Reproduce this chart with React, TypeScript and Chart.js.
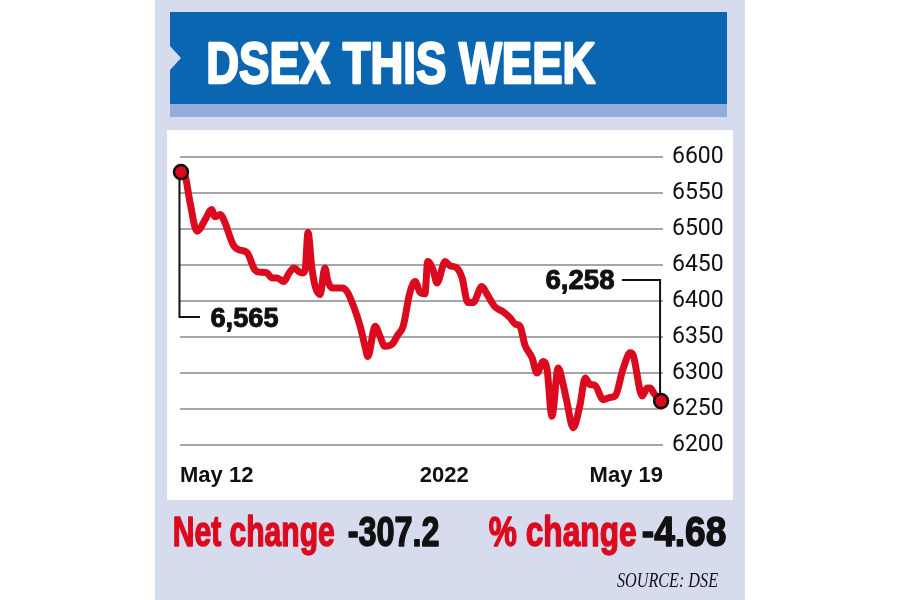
import React, { useEffect, useRef } from "react";
import { Chart, registerables } from "chart.js";

Chart.register(...registerables);

// ---- DATA ----
// position within the week (0 = May 12 open, 100 = May 19 close)
const timePos = [
  0.2, 1.0, 2.1, 3.5, 4.1, 5.2, 6.6, 7.2, 8.3, 9.3, 10.4, 11.2, 12.2, 13.9, 15.5, 16.6,
  18.0, 19.0, 20.1, 21.5, 22.6, 23.6, 24.8, 25.3, 25.9, 26.5, 27.3, 28.0, 29.0, 30.0,
  30.6, 31.5, 33.5, 34.6, 35.8, 37.3, 38.3, 38.9, 40.4, 41.4, 42.4, 43.9, 45.1, 46.2,
  47.6, 48.7, 49.7, 50.7, 51.3, 52.4, 53.2, 54.9, 55.9, 57.3, 58.4, 59.6, 60.7, 62.5,
  63.6, 65.2, 66.9, 68.3, 69.4, 70.4, 71.4, 72.9, 73.9, 75.2, 76.0, 77.0, 78.3, 79.3,
  80.1, 81.4, 82.8, 83.9, 84.9, 85.9, 87.6, 89.0, 90.1, 91.7, 93.2, 93.8, 95.7, 96.7,
  97.3, 98.3, 99.6,
];
const dsexValues = [
  6579, 6575, 6536, 6497, 6500, 6513, 6527, 6517, 6520, 6509, 6488, 6476, 6471, 6467, 6443, 6440,
  6439, 6432, 6432, 6427, 6439, 6446, 6440, 6439, 6443, 6495, 6446, 6420, 6409, 6446,
  6428, 6418, 6418, 6413, 6395, 6365, 6337, 6323, 6365, 6351, 6337, 6340, 6353, 6365,
  6412, 6427, 6412, 6410, 6455, 6443, 6425, 6455, 6449, 6446, 6432, 6398, 6398, 6420,
  6409, 6392, 6385, 6377, 6368, 6365, 6339, 6321, 6300, 6316, 6305, 6240, 6307, 6285,
  6260, 6224, 6255, 6293, 6284, 6283, 6263, 6266, 6268, 6305, 6328, 6325, 6268, 6279,
  6279, 6270, 6261,
];
const yMin = 6200;
const yMax = 6600;
const yStep = 50;
const xTickPos = [0, 54.7, 100];
const xTickLabels = ["May 12", "2022", "May 19"];
const titleText = "DSEX THIS WEEK";
const startLabel = "6,565";
const endLabel = "6,258";
const netLabel = "Net change";
const netValue = "-307.2";
const pctLabel = "% change";
const pctValue = "-4.68";
const sourceText = "SOURCE: DSE";

// ---- STYLE ----
const LAV = "#d6dbee";
const BLUE = "#0b66b2";
const STRIP = "#93acd9";
const RED = "#dc0a1e";
const INK = "#111111";
const GRID = "#a6a6a6";
const SANS = '"Liberation Sans", Arial, sans-serif';

function fitText(
  ctx: CanvasRenderingContext2D,
  text: string,
  x: number,
  y: number,
  width: number,
  font: string,
  color: string,
  stroke = 0
) {
  ctx.save();
  ctx.font = font;
  ctx.textBaseline = "alphabetic";
  ctx.textAlign = "left";
  const w = ctx.measureText(text).width + stroke;
  const sx = width / w;
  ctx.translate(x + stroke / 2, y);
  ctx.scale(sx, 1);
  ctx.fillStyle = color;
  ctx.fillText(text, 0, 0);
  if (stroke > 0) {
    ctx.strokeStyle = color;
    ctx.lineWidth = stroke;
    ctx.lineJoin = "round";
    ctx.strokeText(text, 0, 0);
  }
  ctx.restore();
}

const decor = {
  id: "decor",
  beforeDraw(chart: any) {
    const ctx = chart.ctx as CanvasRenderingContext2D;
    ctx.save();
    ctx.fillStyle = "#ffffff";
    ctx.fillRect(0, 0, 900, 600);
    ctx.fillStyle = LAV;
    ctx.fillRect(155, 0, 590, 600);
    ctx.fillStyle = "#ffffff";
    ctx.fillRect(167, 130, 566, 370);
    ctx.fillStyle = BLUE;
    ctx.fillRect(170, 12, 557, 92);
    ctx.fillStyle = STRIP;
    ctx.fillRect(170, 104, 557, 13);
    ctx.fillStyle = LAV;
    ctx.beginPath();
    ctx.moveTo(170, 46);
    ctx.lineTo(181, 58);
    ctx.lineTo(170, 70);
    ctx.closePath();
    ctx.fill();

    fitText(ctx, titleText, 205, 83, 391, `bold 58px ${SANS}`, "#ffffff", 2.5);
    fitText(ctx, netLabel, 172, 546, 163, `bold 43px ${SANS}`, RED, 1.5);
    fitText(ctx, netValue, 347, 546, 93, `bold 43px ${SANS}`, INK, 1.5);
    fitText(ctx, pctLabel, 488, 546, 149, `bold 43px ${SANS}`, RED, 1.5);
    fitText(ctx, pctValue, 641, 546, 86, `bold 43px ${SANS}`, INK, 1.5);
    fitText(ctx, sourceText, 617, 587, 101, `italic 20px "Liberation Serif", "Times New Roman", serif`, INK, 0);
    ctx.restore();
  },
  beforeDatasetsDraw(chart: any) {
    const ctx = chart.ctx as CanvasRenderingContext2D;
    const pts = chart.getDatasetMeta(0).data;
    const p0 = pts[0];
    const pN = pts[pts.length - 1];
    ctx.save();
    ctx.strokeStyle = INK;
    ctx.lineWidth = 2;
    ctx.beginPath();
    ctx.moveTo(p0.x - 1.5, p0.y);
    ctx.lineTo(p0.x - 1.5, 317);
    ctx.lineTo(200, 317);
    ctx.stroke();
    ctx.beginPath();
    ctx.moveTo(622, 280);
    ctx.lineTo(pN.x - 1, 280);
    ctx.lineTo(pN.x - 1, pN.y);
    ctx.stroke();
    ctx.restore();
  },
  afterDatasetsDraw(chart: any) {
    const ctx = chart.ctx as CanvasRenderingContext2D;
    fitText(ctx, startLabel, 210, 327, 69, `bold 28px ${SANS}`, INK, 1);
    fitText(ctx, endLabel, 545, 289, 70, `bold 28px ${SANS}`, INK, 1);
  },
};

export default function App() {
  const ref = useRef<HTMLCanvasElement | null>(null);
  useEffect(() => {
    if (!ref.current) return;
    const last = dsexValues.length - 1;
    const chart = new Chart(ref.current, {
      type: "line",
      data: {
        datasets: [
          {
            data: timePos.map((t, i) => ({ x: t, y: dsexValues[i] })),
            borderColor: RED,
            borderWidth: 7,
            borderJoinStyle: "round",
            borderCapStyle: "round",
            cubicInterpolationMode: "monotone",
            pointRadius: (c: any) => (c.dataIndex === 0 || c.dataIndex === last ? 7 : 0),
            pointBackgroundColor: RED,
            pointBorderColor: INK,
            pointBorderWidth: 2.5,
            fill: false,
            clip: false as any,
          },
        ],
      },
      options: {
        responsive: false,
        animation: false,
        devicePixelRatio: 1,
        layout: { padding: { left: 180, top: 157, right: 0, bottom: 0 } },
        plugins: { legend: { display: false }, tooltip: { enabled: false } },
        scales: {
          x: {
            type: "linear",
            min: 0,
            max: 100,
            grid: { display: false, drawTicks: false },
            border: { display: false },
            afterBuildTicks: (s: any) => {
              s.ticks = xTickPos.map((v) => ({ value: v }));
            },
            afterFit: (s: any) => {
              s.height = 155;
            },
            ticks: {
              align: "inner",
              padding: 18,
              maxRotation: 0,
              autoSkip: false,
              color: INK,
              font: { family: SANS, size: 22, weight: "bold" },
              callback: (_v: any, i: number) => xTickLabels[i],
            },
          },
          y: {
            position: "right",
            min: yMin,
            max: yMax,
            grid: { color: GRID, lineWidth: 2, drawTicks: false },
            border: { display: false },
            afterFit: (s: any) => {
              s.width = 237;
            },
            ticks: {
              stepSize: yStep,
              padding: 9,
              color: INK,
              font: { family: "Roboto, " + SANS, size: 23 },
              callback: (v: any) => String(v),
            },
          },
        },
      },
      plugins: [decor],
    } as any);
    return () => chart.destroy();
  }, []);
  return (
    <div style={{ position: "absolute", left: 0, top: 0, width: 900, height: 600 }}>
      <canvas ref={ref} width={900} height={600} style={{ display: "block" }} />
    </div>
  );
}
